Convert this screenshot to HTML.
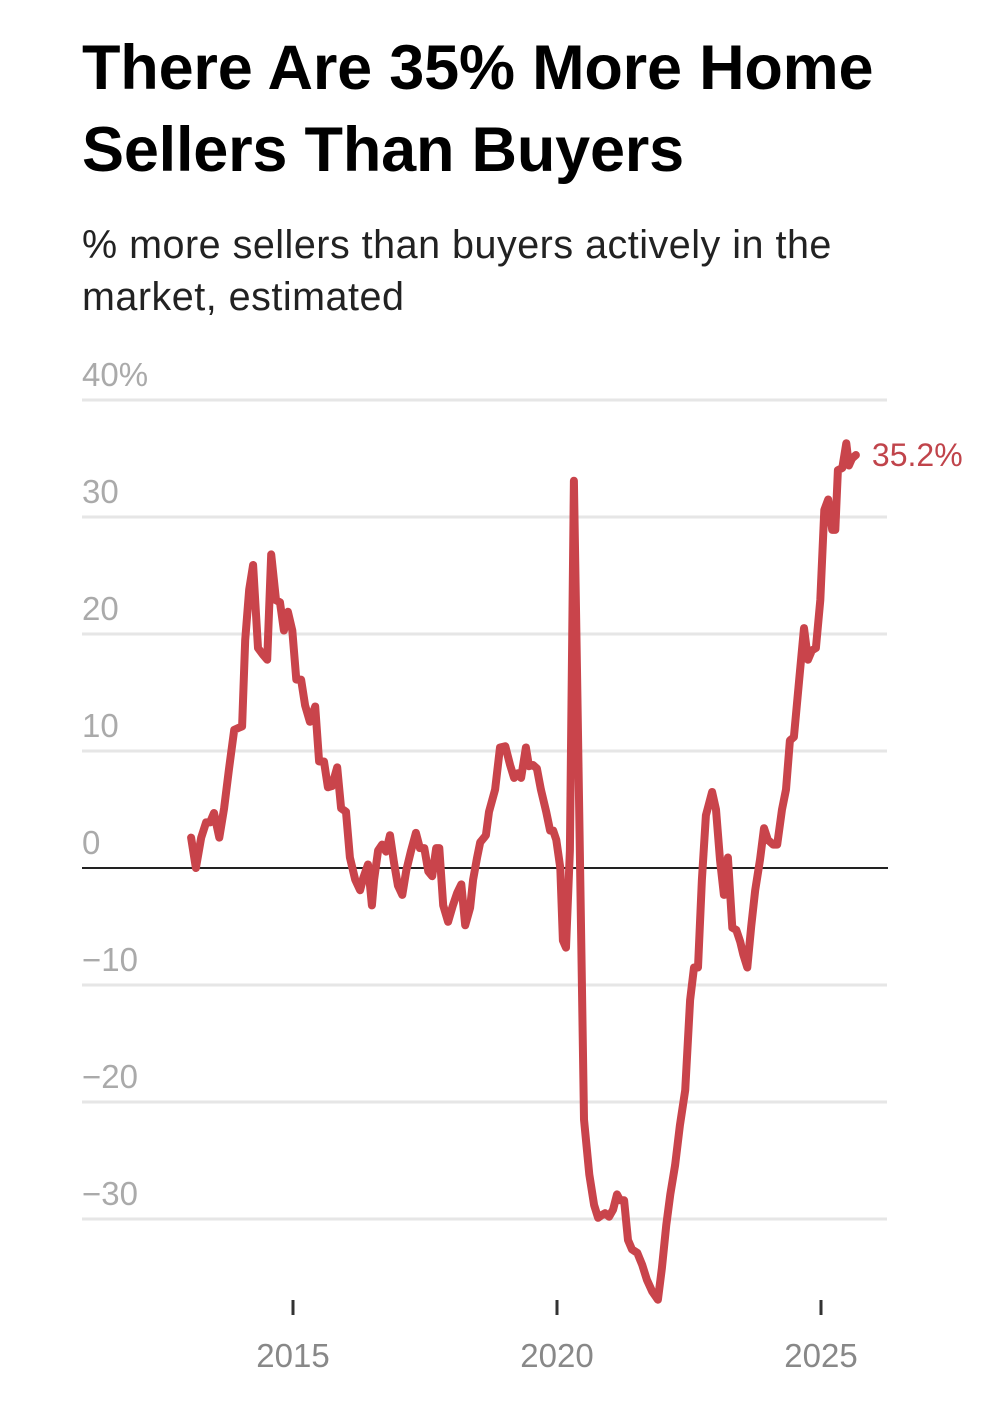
<!DOCTYPE html>
<html><head><meta charset="utf-8"><style>
body{margin:0;background:#fff;width:991px;height:1411px;overflow:hidden;font-family:"Liberation Sans",sans-serif}
h1{position:absolute;left:82px;top:27px;margin:0;font-size:63px;line-height:82px;font-weight:bold;color:#000;letter-spacing:-0.2px}
.sub{position:absolute;left:82px;top:219px;margin:0;font-size:39.5px;line-height:52px;color:#222;width:800px;letter-spacing:0.5px}
svg{position:absolute;left:0;top:0}
</style></head><body>
<h1>There Are 35% More Home<br>Sellers Than Buyers</h1>
<p class="sub">% more sellers than buyers actively in the market, estimated</p>
<svg id="chart" width="991" height="1411"></svg>
<script>
const months=[0,1.1,2.3,3.4,4.3,5.2,6.4,7.5,8.6,9.8,10.9,11.6,12.3,13.2,14.1,15.2,16.4,17.3,18.2,19.3,20.2,21.1,22,23,23.9,25,25.9,27,28.2,29.1,30.2,31.1,32,33.2,34.1,35.2,36.1,37.3,38.4,39.1,40.2,41.1,41.6,42.5,43.4,44.3,45.2,46.1,47,48,48.9,50,51.1,52,53,53.9,54.8,55.7,56.4,57.3,58.4,59.5,60.5,61.4,62.3,63.4,64.1,65,65.7,66.6,67,67.7,69.1,70.2,71.4,72.5,73.4,74.3,75,76.1,76.8,77.7,78.6,79.5,80.7,81.6,82.3,83,83.9,84.5,85.2,86.1,87,87.7,88.4,89.3,90.5,91.6,92.5,93.2,94.1,95,95.9,96.8,97.5,98.4,99.3,100.2,101.4,102.5,103.6,104.8,106.1,107,108,108.9,110,111.1,112.3,113.4,114.3,115.2,116.1,117,118.4,119.3,120.2,121.1,122,123,123.9,124.8,125.5,126.4,127.3,128.2,129.3,130.2,131.1,132.3,133.2,134.3,135.2,136.1,137,138.2,139.3,140.2,141.1,142,143,143.9,144.8,145.7,146.4,147,148,148.9,149.5,150.2,151.1];
const values=[2.6,0,2.6,3.9,3.9,4.7,2.6,5.1,8.4,11.8,12.0,12.1,19.5,23.8,25.9,18.8,18.2,17.8,26.8,22.9,22.7,20.3,21.9,20.3,16.1,16.1,13.9,12.5,13.8,9.1,9.1,6.9,7.0,8.6,5.1,4.8,0.9,-1.0,-1.9,-0.9,0.3,-3.2,-1.0,1.5,2.0,1.4,2.8,0.5,-1.5,-2.3,-0.2,1.5,3.0,1.7,1.7,-0.3,-0.7,1.7,1.7,-3.2,-4.6,-3.2,-2.1,-1.4,-4.9,-3.4,-1.0,0.9,2.2,2.6,2.8,4.8,6.7,10.3,10.4,8.8,7.7,8.1,7.7,10.3,8.7,8.8,8.5,6.7,4.8,3.2,3.2,2.4,0,-6.2,-6.8,1.5,33.1,16.9,0,-21.5,-26.2,-28.8,-29.9,-29.7,-29.5,-29.8,-29.2,-27.9,-28.4,-28.4,-31.8,-32.6,-32.9,-33.9,-35.2,-36.2,-36.9,-34.2,-30.5,-27.9,-25.4,-22.0,-19.0,-11.3,-8.5,-8.5,-1.0,4.5,6.5,5.0,0.7,-2.3,0.9,-5.1,-5.3,-6.3,-7.4,-8.5,-5.0,-1.9,0.7,3.4,2.4,2.0,2.0,5.0,6.7,10.9,11.2,16.1,20.5,17.8,18.6,18.8,22.9,30.6,31.5,28.9,28.9,34.0,34.2,36.3,34.4,35.0,35.3];
const yTicks=[40,30,20,10,0,-10,-20,-30];
const yTickLabels=["40%","30","20","10","0","\u221210","\u221220","\u221230"];
const xTicks=[2015,2020,2025];
const endLabel="35.2%";
const startYear=2013.07;
const NS="http://www.w3.org/2000/svg";
const svg=document.getElementById('chart');
const yScale=v=>868-v*11.7;
const xYear=y=>293+(y-2015)*52.8;
const xMonth=m=>xYear(startYear+m/12);
function mk(tag,attrs){const e=document.createElementNS(NS,tag);for(const k in attrs)e.setAttribute(k,attrs[k]);svg.appendChild(e);return e;}
yTicks.forEach((t,i)=>{
  if(t!==0){const g=mk('line',{x1:82,x2:887,y1:yScale(t),y2:yScale(t),stroke:'#e6e6e6','stroke-width':3});
  
  }
  const tx=mk('text',{x:82,y:yScale(t)-14,'font-size':33,fill:'#aaaaaa','font-family':'Liberation Sans, sans-serif'});
  tx.textContent=yTickLabels[i];
  
  
});
const zl=mk('line',{x1:82,x2:888,y1:yScale(0),y2:yScale(0),stroke:'#222','stroke-width':2});


xTicks.forEach(y=>{
  const tk=mk('line',{x1:xYear(y),x2:xYear(y),y1:1300,y2:1315,stroke:'#333','stroke-width':3});
  
  
  const tx=mk('text',{x:xYear(y),y:1367,'font-size':33,fill:'#888','text-anchor':'middle','font-family':'Liberation Sans, sans-serif'});
  tx.textContent=y;
  
  
});
const d=months.map((m,i)=>(i?'L':'M')+xMonth(m).toFixed(1)+','+yScale(values[i]).toFixed(1)).join(' ');
const p=mk('path',{d:d,fill:'none',stroke:'#c9444b','stroke-width':8,'stroke-linejoin':'round','stroke-linecap':'round'});


const last=months.length-1;
const el=mk('text',{x:xMonth(months[last])+16,y:yScale(values[last])+11,'font-size':32,fill:'#c0444b','font-family':'Liberation Sans, sans-serif'});
el.textContent=endLabel;


</script>
</body></html>
